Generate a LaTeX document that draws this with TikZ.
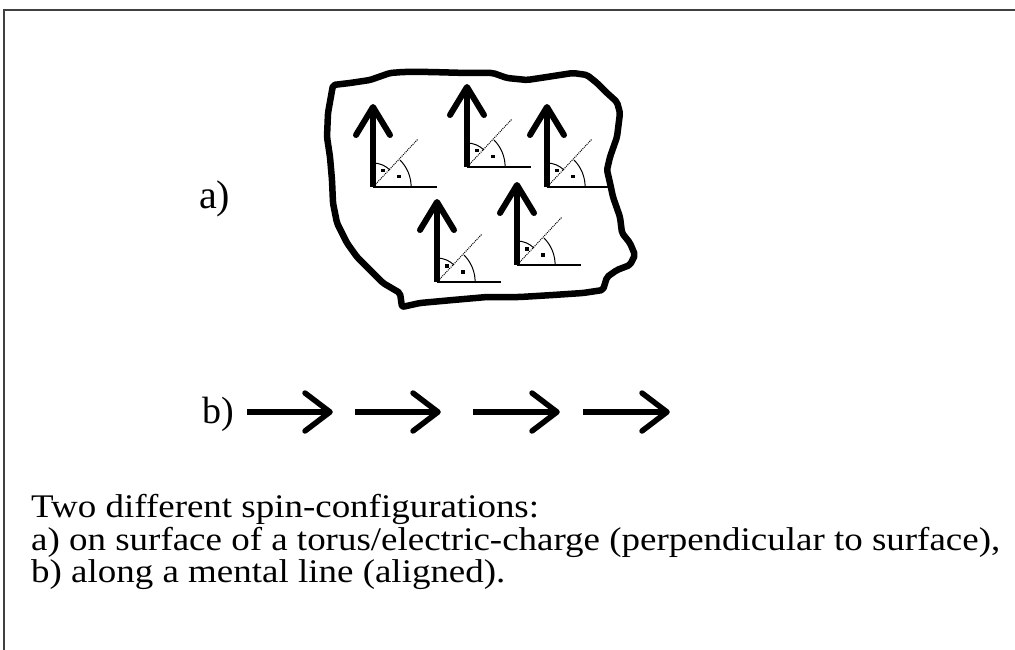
\documentclass[tikz,border=0pt]{standalone}
\usepackage{fontspec}
\setmainfont{Liberation Serif}
\newfontfamily\capfont[FakeStretch=1.12]{Liberation Serif}
\tikzset{
  frameline/.style={draw=black!75, line width=1.8pt},
  blobline/.style={line width=6.5pt, line join=round, rounded corners=2pt},
  spinshaft/.style={line width=6pt},
  spinhead/.style={line width=6pt, line cap=round, line join=round},
  thinline/.style={line width=1.1pt},
  dotline/.style={line width=1pt, densely dotted},
  arcline/.style={line width=1pt},
  hshaft/.style={line width=5.5pt},
  hhead/.style={line width=5.5pt, line cap=round, line join=round},
  lbl/.style={inner sep=0pt, anchor=base west},
  captext/.style={lbl, font=\capfont\fontsize{33}{33}\selectfont},
  pics/spinsym/.style={code={
    \draw[spinshaft] (0,0) -- (0,-80);
    \draw[spinhead] (-17,-52) -- (0,-80) -- (17,-52);
    \draw[thinline] (0,0) -- (64,0);
    \draw[dotline] (0,0) -- (45,-48);
    \draw[arcline] (0,-24) arc[start angle=-90, end angle=-45, radius=24];
    \draw[arcline] (27,-27) arc[start angle=-45, end angle=0, radius=38] -- (38,0);
    \fill (8,-18) rectangle +(3.5,3.5);
    \fill (24,-12) rectangle +(3.5,3.5);
  }}
}
\begin{document}
\begin{tikzpicture}[x=1pt,y=-1pt]
\useasboundingbox (0,0) rectangle (1015,650);
\fill[white] (0,0) rectangle (1015,650);
% frame
\draw[frameline] (1015,10) -- (4,10) -- (4,650);
% blob outline
\draw[blobline] (333,85) -- (350,83) -- (370,80) -- (390,73) -- (403,72) -- (430,72)
  -- (467,73) -- (493,73) -- (507,78) -- (527,80) -- (547,77) -- (573,73) -- (587,75)
  -- (597,83) -- (607,93) -- (617,102) -- (620,113) -- (617,137) -- (610,157) -- (607,170)
  -- (610,183) -- (613,197) -- (620,217) -- (622,233) -- (630,243) -- (635,255) -- (630,265)
  -- (617,270) -- (607,277) -- (603,290) -- (583,293) -- (553,295) -- (520,297) -- (487,297)
  -- (453,300) -- (420,303) -- (402,307) -- (400,293) -- (383,283) -- (370,270) -- (357,257)
  -- (347,243) -- (337,223) -- (333,203) -- (332,180) -- (330,157) -- (327,137) -- (328,113)
  -- cycle;
% spins on surface
\pic at (373,187) {spinsym};
\pic at (467,167) {spinsym};
\pic at (547,187) {spinsym};
\pic at (437,282) {spinsym};
\pic at (517,265) {spinsym};
% labels
\node[lbl, font=\fontsize{40}{40}\selectfont] (la) at (199,208) {a)};
\node[lbl, font=\fontsize{38}{38}\selectfont] (lb) at (202,423) {b)};
% aligned arrows
\foreach \xa/\xb in {247/330, 355/438, 473/557, 583/667}{
  \draw[hshaft] (\xa,412) -- (\xb,412);
  \draw[hhead] (\xb-25,393) -- (\xb,412) -- (\xb-25,431);
}
% caption
\node[captext] (c1) at (31,517) {Two different spin-configurations:};
\node[captext] (c2) at (31,550) {a) on surface of a torus/electric-charge (perpendicular to surface),};
\node[captext] (c3) at (31,582) {b) along a mental line (aligned).};
\end{tikzpicture}
\end{document}
